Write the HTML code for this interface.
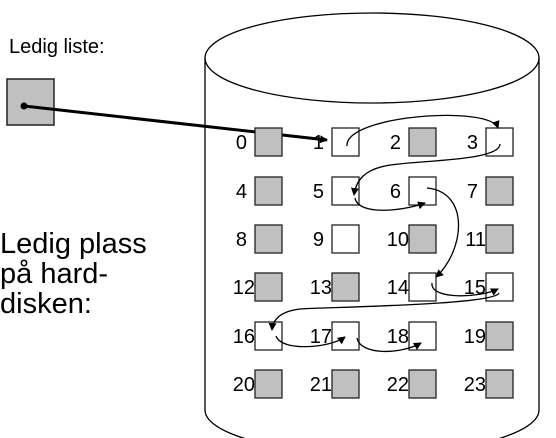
<!DOCTYPE html>
<html><head><meta charset="utf-8"><style>
html,body{margin:0;padding:0;background:#fff;}
svg{display:block;font-family:"Liberation Sans",Arial,sans-serif;}
</style></head><body>
<svg width="556" height="438" viewBox="0 0 556 438">
<defs><marker id="ah" markerWidth="8" markerHeight="8" refX="7" refY="4" orient="auto" markerUnits="userSpaceOnUse"><path d="M0,0 L8,4 L0,8 z" fill="#000"/></marker></defs>
<text x="9" y="53" font-size="20">Ledig liste:</text>
<rect x="7" y="79" width="47" height="46" fill="#c0c0c0" stroke="#222" stroke-width="1.5"/>
<circle cx="24" cy="106" r="3.5" fill="#000"/>
<line x1="24" y1="106" x2="327" y2="140" stroke="#000" stroke-width="3" marker-end="url(#ah)"/>
<g font-size="29">
<text x="0" y="253">Ledig plass</text><text x="0" y="283">på hard-</text><text x="0" y="313">disken:</text></g>
<g fill="none" stroke="#000" stroke-width="1.3">
<ellipse cx="372" cy="58" rx="167" ry="45"/>
<line x1="205" y1="58" x2="205" y2="410"/>
<line x1="539" y1="58" x2="539" y2="410"/>
<path d="M205,410 A167,44 0 0 0 539,410"/>
</g>
<g id="grid"></g>
<g fill="none" stroke="#000" stroke-width="1.3">
<path d="M347,146 C345,115 490,105 498,128" marker-end="url(#ah)"/>
<path d="M500,144 C500,162 410,160 385,166 C365,170 356,180 354,195" marker-end="url(#ah)"/>
<path d="M355,198 C358,215 400,212 425,203" marker-end="url(#ah)"/>
<path d="M427,188 C470,192 465,250 436,277" marker-end="url(#ah)"/>
<path d="M432,283 C430,300 480,298 498,289" marker-end="url(#ah)"/>
<path d="M499,293 C495,305 330,307 300,309 C283,311 273,318 272,330" marker-end="url(#ah)"/>
<path d="M276,336 C282,352 330,348 345,337" marker-end="url(#ah)"/>
<path d="M357,338 C360,355 400,355 421,343" marker-end="url(#ah)"/>
</g>
</svg>
<script>
const freeBlocks=[1,3,5,6,9,14,15,16,17,18];
const colX=[255,332,409,486], rowY=[128,177,225,273,322,370];
const g=document.getElementById('grid');
const NS='http://www.w3.org/2000/svg';
for(let i=0;i<24;i++){
 const c=i%4,r=Math.floor(i/4);
 const rect=document.createElementNS(NS,'rect');
 rect.setAttribute('x',colX[c]);rect.setAttribute('y',rowY[r]);
 rect.setAttribute('width',27);rect.setAttribute('height',28);
 rect.setAttribute('fill',freeBlocks.includes(i)?'#fff':'#c0c0c0');
 rect.setAttribute('stroke','#222');rect.setAttribute('stroke-width','1.3');
 
 
 g.appendChild(rect);
 const t=document.createElementNS(NS,'text');
 t.setAttribute('x',i<10?colX[c]-8:colX[c]);t.setAttribute('y',rowY[r]+21);
 t.setAttribute('text-anchor','end');t.setAttribute('font-size','20');
 t.textContent=i;
 
 
 g.appendChild(t);
}
</script>
</body></html>
